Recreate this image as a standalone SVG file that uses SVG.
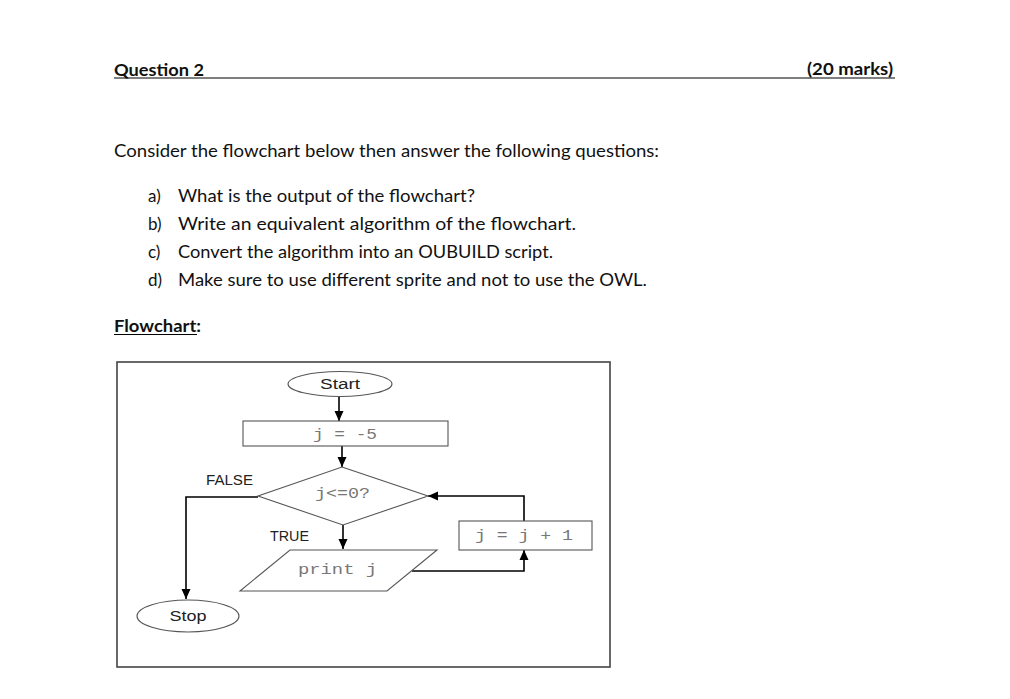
<svg xmlns="http://www.w3.org/2000/svg" width="1010" height="699" viewBox="0 0 1010 699">
<defs>
<marker id="arrow" markerUnits="userSpaceOnUse" markerWidth="10" markerHeight="10" viewBox="0 0 10 10" refX="10" refY="5" orient="auto">
<path d="M0,0.5 L10,5 L0,9.5 Z" fill="#000"/>
</marker>
</defs>
<style>
.doc{font-family:Lato,"Open Sans","Liberation Sans",sans-serif;font-size:17px;fill:#111}
.bold{font-weight:bold}
.lbl{font-family:"Liberation Sans",Arial,sans-serif;font-size:14px;fill:#222}
.code{font-family:"Liberation Mono","Courier New",monospace;font-size:14px;fill:#777}
.shape{fill:#fff;stroke:#555;stroke-width:1.1}
.conn{fill:none;stroke:#000;stroke-width:1.6}
</style>
<rect width="1010" height="699" fill="#fff"/>

<g id="header">
<text class="doc bold" x="114" y="76" font-size="18" textLength="90" lengthAdjust="spacingAndGlyphs">Question 2</text>
<text class="doc bold" x="807" y="75" font-size="18" textLength="86" lengthAdjust="spacingAndGlyphs">(20 marks)</text>
<line x1="114" y1="78" x2="895" y2="78" stroke="#000" stroke-width="1.2"/>
<text class="doc" x="114" y="157" textLength="545" lengthAdjust="spacingAndGlyphs">Consider the flowchart below then answer the following questions:</text>
<text class="doc" x="148" y="202">a)</text>
<text class="doc" x="178" y="202" textLength="297" lengthAdjust="spacingAndGlyphs">What is the output of the flowchart?</text>
<text class="doc" x="148" y="230">b)</text>
<text class="doc" x="178" y="230" textLength="398" lengthAdjust="spacingAndGlyphs">Write an equivalent algorithm of the flowchart.</text>
<text class="doc" x="148" y="258">c)</text>
<text class="doc" x="178" y="258" textLength="375" lengthAdjust="spacingAndGlyphs">Convert the algorithm into an OUBUILD script.</text>
<text class="doc" x="148" y="286">d)</text>
<text class="doc" x="178" y="286" textLength="469" lengthAdjust="spacingAndGlyphs">Make sure to use different sprite and not to use the OWL.</text>
<text class="doc bold" x="114" y="332" textLength="87" lengthAdjust="spacingAndGlyphs">Flowchart:</text>
<line x1="114" y1="334.5" x2="197" y2="334.5" stroke="#000" stroke-width="1.2"/>
</g>

<rect id="frame" x="117" y="362" width="493" height="305" fill="#fff" stroke="#444" stroke-width="1.6"/>

<g id="connectors">
<line class="conn" x1="339" y1="397" x2="339" y2="421" marker-end="url(#arrow)"/>
<line class="conn" x1="342" y1="446" x2="342" y2="467" marker-end="url(#arrow)"/>
<line class="conn" x1="343" y1="525" x2="343" y2="549" marker-end="url(#arrow)"/>
<polyline class="conn" points="258,497 186,497 186,599" marker-end="url(#arrow)"/>
<polyline class="conn" points="412,571 524,571 524,550" marker-end="url(#arrow)"/>
<polyline class="conn" points="524,521 524,496 428,496" marker-end="url(#arrow)"/>
<text class="lbl" x="206" y="485" textLength="47" lengthAdjust="spacingAndGlyphs">FALSE</text>
<text class="lbl" x="270" y="541" textLength="39" lengthAdjust="spacingAndGlyphs">TRUE</text>
</g>

<g id="start">
<ellipse class="shape" cx="340" cy="384" rx="52" ry="12.5"/>
<text class="lbl" x="340" y="388.5" text-anchor="middle" textLength="40" lengthAdjust="spacingAndGlyphs">Start</text>
</g>

<g id="init">
<rect class="shape" x="243" y="421" width="205" height="25" stroke="#999"/>
<text class="code" x="313" y="439" textLength="64" lengthAdjust="spacingAndGlyphs">j = -5</text>
</g>

<g id="decision">
<polygon class="shape" points="342,467 428,496 343,525 258,496" stroke="#333"/>
<text class="code" x="315" y="498" textLength="55" lengthAdjust="spacingAndGlyphs">j&lt;=0?</text>
</g>

<g id="print">
<polygon class="shape" points="290,550 437,550 387,591 240,591" stroke="#333"/>
<text class="code" x="298" y="574" textLength="79" lengthAdjust="spacingAndGlyphs">print j</text>
</g>

<g id="increment">
<rect class="shape" x="459" y="521" width="133" height="29" stroke="#999"/>
<text class="code" x="475" y="540" textLength="98" lengthAdjust="spacingAndGlyphs">j = j + 1</text>
</g>

<g id="stop">
<ellipse class="shape" cx="188" cy="616" rx="51" ry="16"/>
<text class="lbl" x="188" y="621" text-anchor="middle" textLength="37" lengthAdjust="spacingAndGlyphs">Stop</text>
</g>
</svg>
